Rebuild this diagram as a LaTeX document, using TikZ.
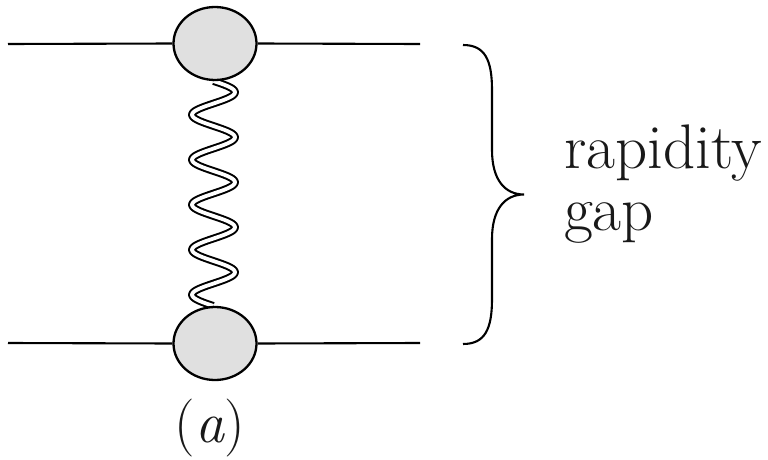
\documentclass[tikz,border=0pt]{standalone}
\usepackage{fontspec}
\usetikzlibrary{shapes.geometric}
\definecolor{blobgray}{HTML}{E0E0E0}
\begin{document}
\begin{tikzpicture}[x=1pt,y=-1pt,line width=2.1pt,
  blob/.style={ellipse,draw,fill=blobgray,line width=2.3pt,minimum width=83pt,minimum height=73pt,inner sep=0pt},
  gluon/.style={double=white,double distance=3.8pt,line width=2pt,line join=round},
  lbl/.style={inner sep=0pt,text=black!90,font=\fontsize{63}{66}\selectfont}]
\useasboundingbox (0,0) rectangle (768,460);
% wavy line first (behind blobs)
\draw[gluon] plot[smooth,domain=0:5,samples=181,variable=\t]
  ({213.5+21.5*sin(360*\t)},{81+45*\t});
\node[blob] (top) at (215,43.5) {};
\node[blob] (bot) at (215,343.5) {};
\coordinate (tl) at (8,44);
\coordinate (tr) at (420,44);
\coordinate (bl) at (8,343);
\coordinate (br) at (420,343);
\draw (tl) -- (top.west);
\draw (top.east) -- (tr);
\draw (bl) -- (bot.west);
\draw (bot.east) -- (br);
% brace
\coordinate (bt) at (463,45);
\coordinate (bb) at (463,344);
\coordinate (tip) at (524,194.5);
\draw (bt) .. controls (485,45) and (492,60) .. (492,90) -- (492,150)
  .. controls (492,180) and (505,194.5) .. (tip)
  .. controls (505,194.5) and (492,209) .. (492,239) -- (492,299)
  .. controls (492,329) and (485,344) .. (bb);
\node[lbl,anchor=base west] (rap) at (563,168) {rapidity};
\node[lbl,anchor=base west] (gap) at (563,230) {gap};
\node[lbl,anchor=base] (a) at (210,442.5) {\fontsize{58}{62}\selectfont(\textit{a})};
\end{tikzpicture}
\end{document}
